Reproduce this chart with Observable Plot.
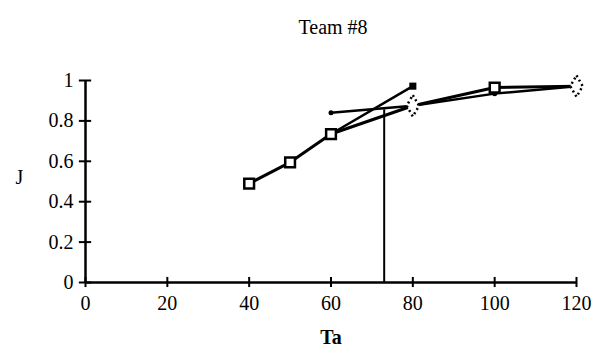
<!DOCTYPE html>
<html><head><meta charset="utf-8">
<script src="https://cdn.jsdelivr.net/npm/d3@7"></script>
<script src="https://cdn.jsdelivr.net/npm/@observablehq/plot@0.6"></script>
<style>body{margin:0;background:#fff}svg{font-family:"Liberation Serif","Times New Roman",serif}</style>
</head><body><div id="chart"></div>
<script>
const title = "Team #8";
const xLabel = "Ta";
const yLabel = "J";
const xTicks = [0, 20, 40, 60, 80, 100, 120];
const yTicks = [0, 0.2, 0.4, 0.6, 0.8, 1];

// Series 1: open squares
const s1X = [40, 50, 60, 80, 100, 120];
const s1Y = [0.49, 0.595, 0.735, 0.875, 0.965, 0.972];
// Series 2: filled square
const s2X = [60, 80];
const s2Y = [0.735, 0.972];
// Series 3: dots
const s3X = [60, 80, 100, 120];
const s3Y = [0.84, 0.875, 0.935, 0.972];
// Marker subsets
const sqX = [40, 50, 60, 100];
const sqY = [0.49, 0.595, 0.735, 0.965];
const diaX = [80, 120];
const diaY = [0.875, 0.972];
// Vertical reference line
const refX = 73;
const refTop = 0.855;

const s1 = s1X.map((x, i) => ({x, y: s1Y[i]}));
const s2 = s2X.map((x, i) => ({x, y: s2Y[i]}));
const s3 = s3X.map((x, i) => ({x, y: s3Y[i]}));
const sq = sqX.map((x, i) => ({x, y: sqY[i]}));
const dia = diaX.map((x, i) => ({x, y: diaY[i]}));
const dots3 = s3.filter(d => !diaX.includes(d.x));

const chart = Plot.plot({
  width: 594, height: 354,
  marginLeft: 85, marginRight: 18, marginTop: 80, marginBottom: 72,
  x: {domain: [0, 120]},
  y: {domain: [0, 1]},
  style: {fontFamily: "Liberation Serif, serif", fontSize: "20px", color: "#000", background: "#fff"},
  marks: [
    Plot.axisX({ticks: xTicks, tickSize: 0, tickPadding: 13, label: null, fontSize: 20}),
    Plot.axisY({ticks: yTicks, tickSize: 0, tickPadding: 12, label: null, fontSize: 20, tickFormat: d => String(d)}),
    Plot.ruleY([0], {strokeWidth: 2.5}),
    Plot.ruleX([0], {y1: 0, y2: 1, strokeWidth: 2.5}),
    Plot.ruleX(xTicks, {x: d => d, y1: -0.025, y2: 0.025, strokeWidth: 2}),
    Plot.ruleY(yTicks, {y: d => d, x1: -1.5, x2: 1.5, strokeWidth: 2}),
    Plot.ruleX([refX], {y1: 0, y2: refTop, strokeWidth: 2}),
    Plot.line(s3, {x: "x", y: "y", strokeWidth: 2.5}),
    Plot.line(s2, {x: "x", y: "y", strokeWidth: 2.5}),
    Plot.line(s1, {x: "x", y: "y", strokeWidth: 3}),
    Plot.dot(dots3, {x: "x", y: "y", r: 2.5, fill: "black", stroke: null}),
    Plot.dot([s2[s2.length - 1]], {x: "x", y: "y", symbol: "square", r: 4, fill: "black", stroke: null}),
    Plot.dot(dia, {x: "x", y: "y", symbol: "diamond", r: 6.5, fill: "white", stroke: "black", strokeWidth: 2.5, strokeDasharray: "2,3"}),
    Plot.dot(sq, {x: "x", y: "y", symbol: "square", r: 5.5, fill: "white", stroke: "black", strokeWidth: 2.5}),
    Plot.text([title], {frameAnchor: "top", dy: -61, dx: 2, fontSize: 20}),
    Plot.text([yLabel], {frameAnchor: "left", dx: -70, dy: -4, fontSize: 20}),
    Plot.text([xLabel], {frameAnchor: "bottom", dy: 61, fontSize: 20, fontWeight: "bold"})
  ]
});
document.getElementById("chart").appendChild(chart);
</script></body></html>
